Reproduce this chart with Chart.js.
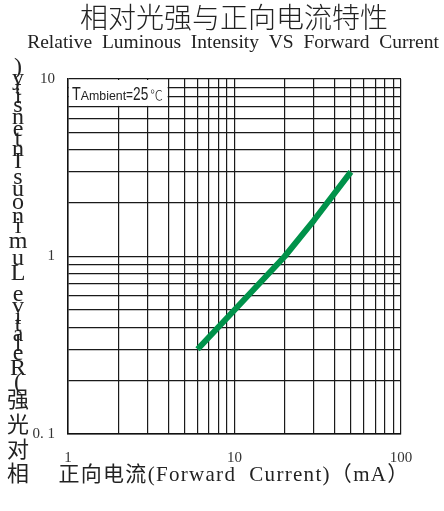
<!DOCTYPE html>
<html>
<head>
<meta charset="utf-8">
<script src="https://cdn.jsdelivr.net/npm/chart.js@4.4.1/dist/chart.umd.min.js"></script>
<style>
html, body { margin: 0; padding: 0; background: #fff; }
canvas { display: block; }
</style>
</head>
<body>
<canvas id="chart" width="444" height="511"></canvas>
<script>
// 曲线数据
const currentMa = [6, 10, 20, 30, 50];
const relIntensity = [0.3, 0.5, 1, 1.6, 3];

// 刻度
const xTicks = [1, 2, 3, 4, 5, 6, 7, 8, 9, 10, 20, 30, 40, 50, 60, 70, 80, 90, 100];
const yTicks = [0.1, 0.2, 0.3, 0.4, 0.5, 0.6, 0.7, 0.8, 0.9, 1, 2, 3, 4, 5, 6, 7, 8, 9, 10];
const xTickLabels = { 1: '1', 10: '10', 100: '100' };
const yTickLabels = { 0.1: '0. 1', 1: '1', 10: '10' };

// 文字
const titleText = '相对光强与正向电流特性';
const subtitleText = 'Relative  Luminous  Intensity  VS  Forward  Current';
const xTitleText = '正向电流(Forward  Current)（mA）';
const yTitleText = '相对光强(Relative Luminous Intensity)';
const ambientText = ['T', 'Ambient', '=', '25', '℃'];

const ink = '#222';

// 标题、坐标轴标题和温度标注都用插件画
const decorPlugin = {
    id: 'decor',
    afterDraw(chart) {
        const ctx = chart.ctx;
        const xs = chart.scales.x;
        const ys = chart.scales.y;
        ctx.save();
        ctx.fillStyle = ink;

        // 主标题
        ctx.textAlign = 'center';
        ctx.textBaseline = 'middle';
        ctx.font = '300 28px "Noto Sans CJK SC"';
        ctx.fillText(titleText, 234, 17);
        ctx.textBaseline = 'alphabetic';
        ctx.font = '19.5px "Liberation Serif"';
        ctx.fillText(subtitleText, 233, 48);

        // x 轴标题
        ctx.font = '21px "Liberation Serif", "Noto Sans CJK SC"';
        ctx.letterSpacing = '1.3px';
        ctx.textBaseline = 'middle';
        ctx.fillText(xTitleText, 234, 475);
        ctx.letterSpacing = '0px';

        // y 轴标题: 字符自下而上竖排
        const chars = Array.from(yTitleText);
        let y = 473;
        let prevHalf = 0;
        chars.forEach((c, i) => {
            const cjk = /[\u4e00-\u9fff]/.test(c);
            ctx.font = cjk ? '22px "Noto Sans CJK SC"' : '24px "Liberation Serif"';
            const half = ctx.measureText(c).width / 2;
            if (i > 0) y -= (prevHalf + half) * 1.12;
            if (c !== ' ') ctx.fillText(c, 18, y);
            prevHalf = half;
        });

        // 左上角温度标注框 (遮住网格)
        const left = chart.chartArea.left;
        const top = chart.chartArea.top;
        const boxRight = xs.getPixelForValue(4);
        const boxBottom = ys.getPixelForValue(7);
        ctx.fillStyle = '#fff';
        ctx.fillRect(left + 1, top + 1, boxRight - left - 1.6, boxBottom - top - 1.6);

        ctx.fillStyle = ink;
        ctx.textAlign = 'left';
        ctx.textBaseline = 'alphabetic';
        const styles = [
            { font: '18px "Liberation Sans"', sx: 0.8 },
            { font: '13px "Liberation Sans"', sx: 0.95 },
            { font: '14px "Liberation Sans"', sx: 0.85 },
            { font: '19px "Liberation Sans"', sx: 0.72 },
            { font: '300 14px "Noto Sans CJK SC"', sx: 0.9 }
        ];
        let x = left + 4;
        const base = top + 21;
        ambientText.forEach((t, i) => {
            ctx.font = styles[i].font;
            const w = ctx.measureText(t).width * styles[i].sx;
            ctx.save();
            ctx.translate(x, base);
            ctx.scale(styles[i].sx, 1);
            ctx.fillText(t, 0, 0);
            ctx.restore();
            x += w + (i === 3 ? 2 : 0);
        });

        ctx.restore();
    }
};

const gridStyle = { color: '#1a1a1a', lineWidth: 1.2, drawTicks: false };
const borderStyle = { display: true, color: '#111', width: 1.5 };
const tickFont = { family: '"Liberation Serif"', size: 15 };

new Chart(document.getElementById('chart').getContext('2d'), {
    type: 'line',
    data: {
        datasets: [{
            label: 'Iv',
            data: currentMa.map((x, i) => ({ x: x, y: relIntensity[i] })),
            borderColor: '#00924a',
            borderWidth: 6,
            borderCapStyle: 'butt',
            borderJoinStyle: 'round',
            pointRadius: 0,
            fill: false,
            tension: 0
        }]
    },
    options: {
        responsive: false,
        animation: false,
        layout: { padding: { top: 79, right: 43, left: 0, bottom: 0 } },
        plugins: {
            legend: { display: false },
            title: { display: false },
            tooltip: { enabled: false }
        },
        scales: {
            x: {
                type: 'logarithmic',
                min: 1,
                max: 100,
                afterBuildTicks: s => { s.ticks = xTicks.map(v => ({ value: v })); },
                afterFit: s => { s.height = 77; },
                grid: gridStyle,
                border: borderStyle,
                ticks: {
                    autoSkip: false,
                    maxRotation: 0,
                    padding: 15,
                    color: '#333',
                    font: tickFont,
                    callback: v => xTickLabels[v] || ''
                }
            },
            y: {
                type: 'logarithmic',
                min: 0.1,
                max: 10,
                afterBuildTicks: s => { s.ticks = yTicks.map(v => ({ value: v })); },
                afterFit: s => { s.width = 68; },
                grid: gridStyle,
                border: borderStyle,
                ticks: {
                    autoSkip: false,
                    padding: 13,
                    color: '#333',
                    font: tickFont,
                    callback: v => yTickLabels[v] || ''
                }
            }
        }
    },
    plugins: [decorPlugin]
});
</script>
</body>
</html>
